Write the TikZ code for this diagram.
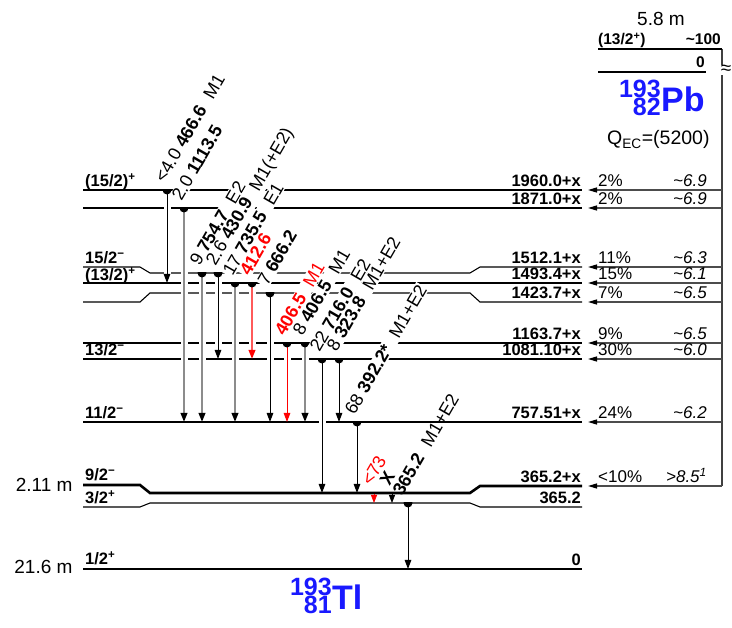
\documentclass[tikz,border=0pt]{standalone}
\usepackage{fontspec}
\setmainfont{Liberation Sans}
\usetikzlibrary{arrows.meta,calc}
\definecolor{lred}{RGB}{255,90,90}
\definecolor{iblue}{RGB}{25,25,255}
\newcommand\fs[1]{\fontsize{#1}{#1}\selectfont}
\newcommand\supm{\textsuperscript{−}}
\newcommand\supp{\textsuperscript{+}}
\begin{document}
\begin{tikzpicture}[x=1pt,y=-1pt,
 lev/.style={line width=1.1pt, black},
 levthick/.style={line width=2.6pt, black},
 gam/.style={line width=1pt, black, -{Triangle[length=9pt,width=6.5pt]}},
 gamg/.style={line width=2pt, black!45, -{Triangle[length=9pt,width=6.5pt,color=black]}},
 gamr/.style={line width=1pt, red, -{Triangle[length=9pt,width=6.5pt]}},
 gamlr/.style={line width=2pt, lred, -{Triangle[length=9pt,width=6.5pt,color=red]}},
 eras/.style={line width=7pt, white, shorten <=6pt, shorten >=6pt},
 glab/.style={rotate=60, anchor=base west, inner sep=1pt, font=\fs{18}},
 glabw/.style={glab, fill=white},
 llab/.style={anchor=base west, inner sep=0pt, font=\fs{16.5}\bfseries},
 rlab/.style={anchor=base east, inner sep=0pt, font=\fs{16.5}\bfseries},
 pct/.style={anchor=base west, inner sep=0pt, font=\fs{17}},
 lft/.style={anchor=base east, inner sep=0pt, font=\fs{17}\itshape},
 feed/.style={line width=1.3pt, black!70, -{Triangle[length=9pt,width=5pt,color=black]}},
 mkb/.pic={\begin{scope}\clip (-6,0) rectangle (6,7); \fill[black] (0,0) circle[radius=4.5pt];\end{scope}},
 iso/.style={inner sep=0pt, text=iblue, font=\bfseries}
]
\useasboundingbox (0,0) rectangle (732,628);

% ---------- levels of 193Tl ----------
\draw[lev] (83,190) -- (582,190);
\draw[lev] (83,208) -- (582,208);
\draw[lev] (83,267) -- (140,267) -- (150,273) -- (470,273) -- (480,267) -- (582,267);
\draw[lev] (83,283) -- (582,283);
\draw[lev] (83,302) -- (140,302) -- (150,293) -- (470,293) -- (480,302) -- (582,302);
\draw[lev] (83,343) -- (582,343);
\draw[lev] (83,359) -- (582,359);
\draw[lev] (83,422) -- (582,422);
\draw[levthick] (83,485) -- (140,485) -- (150,493) -- (470,493) -- (480,486) -- (582,486);
\draw[lev] (83,507) -- (140,507) -- (150,503) -- (470,503) -- (480,507) -- (582,507);
\draw[levthick] (83,569) -- (582,569);

% ---------- gamma transition end points ----------
\foreach \n/\x/\ys/\ye in {1/167/190/283, 2/184/208/422, 3/202/273/422, 4/218/273/359,
  5/235/283/422, 6/252/283/359, 7/270/293/422, 8/287/343/422, 9/305/343/422,
  10/322/359/493, 11/339/359/422, 12/357/422/493, 13/374/494/503, 14/392/494/503,
  15/408/503/569}
 {\coordinate (a\n s) at (\x,\ys); \coordinate (a\n e) at (\x,\ye);}

\foreach \n in {1,...,12,15} {\draw[eras] (a\n s) -- (a\n e);}

\draw[gam]   (a1s) -- (a1e);
\draw[gamg]  (a2s) -- (a2e);
\draw[gamg]  (a3s) -- (a3e);
\draw[gam]   (a4s) -- (a4e);
\draw[gamg]  (a5s) -- (a5e);
\draw[gamlr] (a6s) -- (a6e);
\draw[gam]   (a7s) -- (a7e);
\draw[gamr]  (a8s) -- (a8e);
\draw[gamg]  (a9s) -- (a9e);
\draw[gam]   (a10s) -- (a10e);
\draw[gam]   (a11s) -- (a11e);
\draw[gam]   (a12s) -- (a12e);
\draw[line width=0.8pt, red, -{Triangle[length=8pt,width=6pt]}] (a13s) -- (a13e);
\draw[line width=0.8pt, black, -{Triangle[length=8pt,width=6pt]}] (a14s) -- (a14e);
\draw[gam]   (a15s) -- (a15e);

\foreach \n in {1,...,12,15} {\pic at (a\n s) {mkb};}

% ---------- gamma labels ----------
\node[glabw] (t1) at ($(a1s)+(-3,-5)$) {<4.0 \textbf{466.6}\hspace{.35em} M1};
\node[glabw] (t2) at ($(a2s)+(-3,-5)$) {2.0 \textbf{1113.5}};
\node[glabw] (t3) at ($(a3s)+(-3,-5)$) {9 \textbf{754.7}\hspace{.35em} E2};
\node[glabw] (t4) at ($(a4s)+(-3,-5)$) {2.6 \textbf{430.9}\hspace{.35em} M1(+E2)};
\node[glabw] (t5) at ($(a5s)+(-3,-5)$) {17 \textbf{735.5}\hspace{.35em} E1};
\node[glabw, text=red] (t6) at ($(a6s)+(-3,-5)$) {\textbf{412.6}};
\node[glabw] (t7) at ($(a7s)+(-3,-5)$) {7 \textbf{666.2}};
\node[glabw, text=red] (t8) at ($(a8s)+(-3,-5)$) {\textbf{406.5}\hspace{.35em} M1};
\node[glabw] (t9) at ($(a9s)+(-3,-5)$) {8 \textbf{406.5}\hspace{.35em} M1};
\node[glabw] (t10) at ($(a10s)+(-3,-5)$) {22 \textbf{716.0}\hspace{.35em} E2};
\node[glabw] (t11) at ($(a11s)+(-3,-5)$) {8 \textbf{323.8}\hspace{.35em} M1+E2};
\node[glabw] (t12) at ($(a12s)+(-3,-5)$) {68 \textbf{392.2*}\hspace{.35em} M1+E2};
\node[glab, text=red] (t13) at ($(a13s)+(-3,-6)$) {<73};
\node[glab] (t14) at ($(a14s)+(-3,-6)$) {\textbf{X}};
\node[glab] (t15) at ($(a15s)+(-6,-5)$) {\textbf{365.2}\hspace{.35em} M1+E2};

% ---------- level labels ----------
\node[llab] (s1) at (85,187) {(15/2)\supp};
\node[llab] (s2) at (85,264) {15/2\supm};
\node[llab] (s3) at (85,281) {(13/2)\supp};
\node[llab] (s4) at (85,356) {13/2\supm};
\node[llab] (s5) at (85,419) {11/2\supm};
\node[llab] (s6) at (85,481) {9/2\supm};
\node[llab] (s7) at (85,504) {3/2\supp};
\node[llab] (s8) at (85,565) {1/2\supp};

\node[rlab] (e1) at (581,187) {1960.0+x};
\node[rlab] (e2) at (581,205) {1871.0+x};
\node[rlab] (e3) at (581,264) {1512.1+x};
\node[rlab] (e4) at (581,280) {1493.4+x};
\node[rlab] (e5) at (581,299) {1423.7+x};
\node[rlab] (e6) at (581,340) {1163.7+x};
\node[rlab] (e7) at (581,356) {1081.10+x};
\node[rlab] (e8) at (581,419) {757.51+x};
\node[rlab] (e9) at (581,483) {365.2+x};
\node[rlab] (e10) at (581,504) {365.2};
\node[rlab] (e11) at (581,566) {0};

\node[anchor=base east, font=\fs{19}] (h1) at (76,492) {2.11 m};
\node[anchor=base east, font=\fs{19}] (h2) at (76,574) {21.6 m};

% ---------- parent 193Pb ----------
\coordinate (ptop) at (722,49);
\coordinate (pbot) at (722,486);
\draw[line width=1.3pt, black!75] (ptop) -- (pbot);
\draw[line width=2.2pt] (598,49) -- (ptop);
\draw[line width=2.2pt] (598,72) -- (706,72);
\node[anchor=base west, inner sep=0pt, font=\fs{15.5}\bfseries] (pj) at (598,45) {(13/2\supp)};
\node[anchor=base east, inner sep=0pt, font=\fs{15.5}\bfseries] (pe) at (721,45) {\textasciitilde100};
\node[anchor=base east, inner sep=0pt, font=\fs{15.5}\bfseries] (p0) at (705,68) {0};
\node[fill=white, inner sep=0.5pt, font=\fs{19}] (brk) at (726,70) {≈};
\node[anchor=base, inner sep=0pt, font=\fs{19}] (pt) at (661,26) {5.8 m};
\node[iso, anchor=base east, font=\fs{25}\bfseries] (pa) at (661,98) {193};
\node[iso, anchor=base east, font=\fs{25}\bfseries] (pz) at (661,116) {82};
\node[iso, anchor=base west, font=\fs{34}\bfseries] (pb) at (661,112) {Pb};
\node[anchor=base west, inner sep=0pt, font=\fs{19.5}] (q) at (607,145) {Q\textsubscript{EC}=(5200)};

% ---------- feeding ----------
\foreach \n/\y/\p/\l in {1/190/2\%/\textasciitilde6.9, 2/208/2\%/\textasciitilde6.9,
   3/267/11\%/\textasciitilde6.3, 4/283/15\%/\textasciitilde6.1, 5/302/7\%/\textasciitilde6.5,
   6/343/9\%/\textasciitilde6.5, 7/359/30\%/\textasciitilde6.0, 8/422/24\%/\textasciitilde6.2,
   9/486/<10\%/>8.5\textsuperscript{1}}
 {\coordinate (fs\n) at (722,\y); \coordinate (fe\n) at (588,\y);
  \draw[feed] (fs\n) -- (fe\n);
  \node[pct] (fp\n) at (598,\y-3) {\p};
  \node[lft] (fl\n) at (707,\y-3) {\l};}

% ---------- daughter label ----------
\node[iso, anchor=base east, font=\fs{25}\bfseries] (da) at (332,595) {193};
\node[iso, anchor=base east, font=\fs{25}\bfseries] (dz) at (332,613) {81};
\node[iso, anchor=base west, font=\fs{34}\bfseries] (dt) at (332,609) {Tl};
\end{tikzpicture}
\end{document}
